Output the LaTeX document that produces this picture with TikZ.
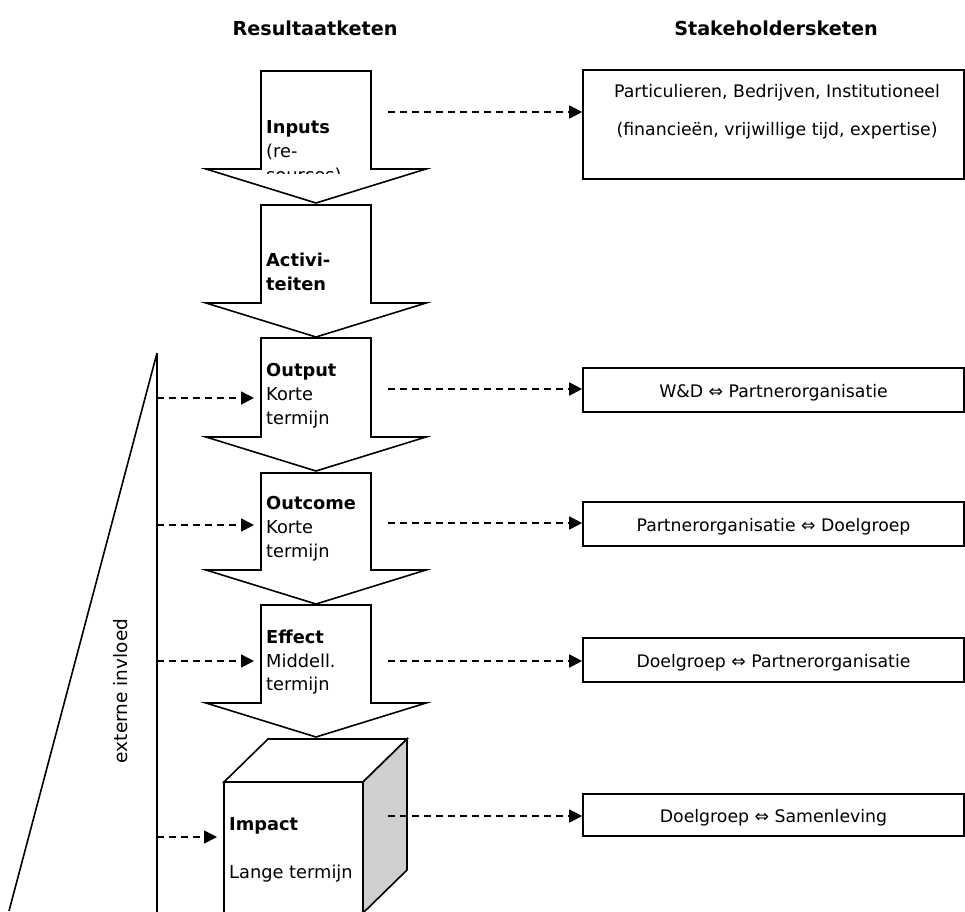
\documentclass[tikz,border=0pt]{standalone}
\usepackage{fontspec}
\setmainfont{DejaVu Sans}
\usetikzlibrary{arrows.meta}

% block arrow of the result chain: shaft top, head base, tip (y values)
\newcommand\chainarrow[3]{%
  \draw[shapeline] (261,#1) -- (371,#1) -- (371,#2) -- (426,#2) -- (316,#3)
    -- (206,#2) -- (261,#2) -- cycle;}

\begin{document}
\begin{tikzpicture}[x=1pt,y=-1pt,
  shapeline/.style={draw=black,line width=1.6pt,fill=white,line join=miter},
  dasharrow/.style={line width=1.5pt,dash pattern=on 7pt off 5pt,
    -{Triangle[length=13pt,width=13pt]}},
  boxfont/.style={font=\fontsize{17.3}{20}\selectfont},
  stakebox/.style={draw,line width=1.6pt,minimum width=381pt,inner sep=0pt,
    text height=14pt,text depth=0pt,boxfont},
  lbl/.style={anchor=base west,inner sep=0pt,font=\fontsize{17.8}{20}\selectfont},
  blbl/.style={lbl,font=\bfseries\fontsize{17.8}{20}\selectfont},
  head/.style={anchor=base,inner sep=0pt,font=\bfseries\fontsize{19.2}{22}\selectfont}]
\useasboundingbox (0,0) rectangle (965,911);
\clip (0,0) rectangle (965,911);

% column headings
\node[head] (hres) at (315,35) {Resultaatketen};
\node[head] (hstake) at (776,35) {Stakeholdersketen};

% external influence wedge
\draw[line width=1.6pt] (157,353) -- (157,915);
\draw[line width=1.6pt] (157,353) -- (9,911);
\node[rotate=90,inner sep=0pt,font=\fontsize{18.5}{20}\selectfont] (ext) at (121,691) {externe invloed};

% result chain
\chainarrow{71}{169}{203}
\begin{scope}
  \clip (261,71) rectangle (371,173);
  \node[blbl] (tInputs) at (266,133) {Inputs};
  \node[lbl] (tInputs2) at (266,157) {(re-};
  \node[lbl] (tInputs3) at (266,181) {sources)};
\end{scope}

\chainarrow{205}{303}{337}
\node[blbl] (tAct) at (266,266) {Activi-};
\node[blbl] (tAct2) at (266,290) {teiten};

\chainarrow{338}{437}{471}
\node[blbl] (tOutput) at (266,376) {Output};
\node[lbl] (tOutput2) at (266,400) {Korte};
\node[lbl] (tOutput3) at (266,424) {termijn};

\chainarrow{473}{570}{604}
\node[blbl] (tOutcome) at (266,509) {Outcome};
\node[lbl] (tOutcome2) at (266,533) {Korte};
\node[lbl] (tOutcome3) at (266,557) {termijn};

\chainarrow{605}{703}{737}
\node[blbl] (tEffect) at (266,643) {Effect};
\node[lbl] (tEffect2) at (266,667) {Middell.};
\node[lbl] (tEffect3) at (266,690) {termijn};

% impact cube
\draw[shapeline] (224,782) -- (268,739) -- (407,739) -- (363,782) -- cycle;
\draw[shapeline,fill=black!19] (363,782) -- (407,739) -- (407,870) -- (363,913) -- cycle;
\draw[shapeline] (224,782) rectangle (363,913);
\node[blbl] (tImpact) at (229,830) {Impact};
\node[lbl] (tImpact2) at (229,878) {Lange termijn};

% anchor points on the chain
\coordinate (lOut) at (261,398);
\coordinate (lOutc) at (261,525);
\coordinate (lEff) at (261,661);
\coordinate (lImp) at (224,837);
\coordinate (rIn) at (388,112);
\coordinate (rOut) at (388,389);
\coordinate (rOutc) at (388,523);
\coordinate (rEff) at (388,661);
\coordinate (rImp) at (388,816);

% stakeholder chain
\node[draw,line width=1.6pt,minimum width=381pt,minimum height=109pt] (sIn) at (773.5,124.5) {};
\node[anchor=base,inner sep=0pt,boxfont] (sInA) at (777,97) {Particulieren, Bedrijven, Institutioneel};
\node[anchor=base,inner sep=0pt,boxfont] (sInB) at (777,135) {(financieën, vrijwillige tijd, expertise)};
\node[stakebox,minimum height=44pt] (sOut) at (773.5,390) {W\&D ⇔ Partnerorganisatie};
\node[stakebox,minimum height=44pt] (sOutc) at (773.5,524) {Partnerorganisatie ⇔ Doelgroep};
\node[stakebox,minimum height=44pt] (sEff) at (773.5,660) {Doelgroep ⇔ Partnerorganisatie};
\node[stakebox,minimum height=42pt] (sImp) at (773.5,815) {Doelgroep ⇔ Samenleving};

% external influence on each step
\draw[dasharrow,shorten >=7pt] (157,398) -- (lOut);
\draw[dasharrow,shorten >=7pt] (157,525) -- (lOutc);
\draw[dasharrow,shorten >=7pt] (157,661) -- (lEff);
\draw[dasharrow,shorten >=7pt] (157,837) -- (lImp);

% result to stakeholder links
\draw[dasharrow] (rIn) -- (rIn -| sIn.west);
\draw[dasharrow] (rOut) -- (rOut -| sOut.west);
\draw[dasharrow] (rOutc) -- (rOutc -| sOutc.west);
\draw[dasharrow] (rEff) -- (rEff -| sEff.west);
\draw[dasharrow] (rImp) -- (rImp -| sImp.west);
\end{tikzpicture}
\end{document}
